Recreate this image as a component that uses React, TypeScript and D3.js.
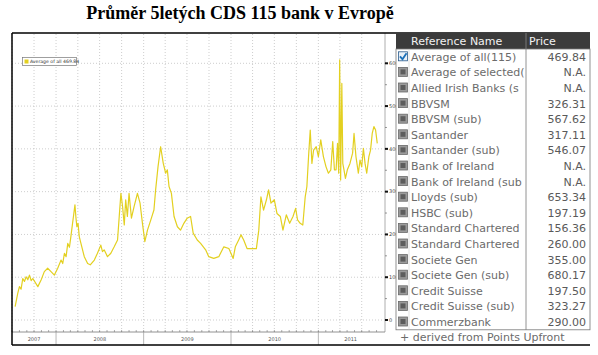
import * as d3 from 'd3'

// Průměr 5letých CDS – average of all 115 banks (bp)
const avgAll: [string, number][] = [
  ['2007-07-14', 31], ['2007-07-25', 62], ['2007-08-01', 78], ['2007-08-08', 72],
  ['2007-08-15', 97], ['2007-08-22', 90], ['2007-08-29', 101], ['2007-09-05', 94],
  ['2007-09-12', 105], ['2007-09-19', 92], ['2007-09-26', 97], ['2007-10-17', 78],
  ['2007-10-31', 94], ['2007-11-13', 113], ['2007-11-27', 121], ['2007-12-11', 113],
  ['2007-12-25', 105], ['2008-01-08', 121], ['2008-01-22', 140], ['2008-01-29', 132],
  ['2008-02-05', 156], ['2008-02-12', 148], ['2008-02-19', 179], ['2008-02-26', 170],
  ['2008-03-03', 195], ['2008-03-10', 226], ['2008-03-20', 269], ['2008-03-24', 240],
  ['2008-03-28', 218], ['2008-04-02', 226], ['2008-04-07', 195], ['2008-04-14', 179],
  ['2008-04-28', 148], ['2008-05-12', 132], ['2008-05-23', 129], ['2008-06-09', 140],
  ['2008-06-22', 156], ['2008-07-06', 175], ['2008-07-13', 160], ['2008-07-20', 164],
  ['2008-08-03', 148], ['2008-08-17', 156], ['2008-08-31', 171], ['2008-09-14', 187],
  ['2008-09-21', 242], ['2008-09-28', 296], ['2008-10-05', 265], ['2008-10-12', 222],
  ['2008-10-18', 281], ['2008-10-25', 242], ['2008-11-01', 296], ['2008-11-11', 238],
  ['2008-11-22', 265], ['2008-12-06', 296], ['2008-12-17', 273], ['2008-12-27', 226],
  ['2009-01-06', 183], ['2009-01-17', 210], ['2009-01-31', 234], ['2009-02-13', 257],
  ['2009-02-20', 304], ['2009-03-02', 358], ['2009-03-13', 405], ['2009-03-24', 366],
  ['2009-04-03', 343], ['2009-04-10', 351], ['2009-04-17', 312], ['2009-04-27', 296],
  ['2009-05-08', 242], ['2009-05-22', 218], ['2009-06-04', 210], ['2009-06-18', 226],
  ['2009-07-02', 238], ['2009-07-16', 242], ['2009-07-27', 203], ['2009-08-13', 187],
  ['2009-08-27', 179], ['2009-09-17', 164], ['2009-09-30', 148], ['2009-10-21', 144],
  ['2009-11-11', 148], ['2009-12-02', 171], ['2009-12-23', 167], ['2010-01-10', 144],
  ['2010-01-19', 171], ['2010-02-02', 187], ['2010-02-12', 199], ['2010-02-23', 187],
  ['2010-03-09', 167], ['2010-03-30', 167], ['2010-04-17', 167], ['2010-04-27', 210],
  ['2010-05-06', 288], ['2010-05-17', 257], ['2010-05-29', 281], ['2010-06-07', 304],
  ['2010-06-17', 273], ['2010-07-01', 281], ['2010-07-12', 249], ['2010-07-26', 242],
  ['2010-08-06', 210], ['2010-08-20', 246], ['2010-09-03', 226], ['2010-09-17', 242],
  ['2010-09-28', 261], ['2010-10-06', 234], ['2010-10-17', 226], ['2010-10-28', 222],
  ['2010-11-07', 288], ['2010-11-14', 312], ['2010-11-21', 382], ['2010-11-28', 444],
  ['2010-12-05', 366], ['2010-12-12', 397], ['2010-12-23', 405], ['2011-01-01', 382],
  ['2011-01-11', 421], ['2011-01-22', 382], ['2011-02-02', 358], ['2011-02-12', 343],
  ['2011-02-22', 351], ['2011-03-02', 417], ['2011-03-09', 351], ['2011-03-16', 351],
  ['2011-03-22', 413], ['2011-03-27', 343], ['2011-03-31', 608], ['2011-04-04', 327],
  ['2011-04-09', 553], ['2011-04-13', 366], ['2011-04-18', 351], ['2011-04-24', 331],
  ['2011-05-02', 351], ['2011-05-13', 366], ['2011-05-24', 390], ['2011-05-30', 436],
  ['2011-06-07', 382], ['2011-06-17', 343], ['2011-06-24', 374], ['2011-07-01', 358],
  ['2011-07-08', 401], ['2011-07-15', 366], ['2011-07-22', 343], ['2011-07-31', 382],
  ['2011-08-07', 397], ['2011-08-14', 436], ['2011-08-21', 452], ['2011-08-28', 444],
  ['2011-09-04', 413],
]

const yTicks = [0, 100, 200, 300, 400, 500, 600]
const years = [2007, 2008, 2009, 2010, 2011]

// names as the list control shows them (cut at the column edge)
const refNames = [
  'Average of all(115)', 'Average of selected(', 'Allied Irish Banks (s', 'BBVSM',
  'BBVSM (sub)', 'Santander', 'Santander (sub)', 'Bank of Ireland', 'Bank of Ireland (sub',
  'Lloyds (sub)', 'HSBC (sub)', 'Standard Chartered', 'Standard Chartered',
  'Societe Gen', 'Societe Gen (sub)', 'Credit Suisse', 'Credit Suisse (sub)', 'Commerzbank',
]
const refPrices = [
  '469.84', 'N.A.', 'N.A.', '326.31', '567.62', '317.11', '546.07', 'N.A.', 'N.A.',
  '653.34', '197.19', '156.36', '260.00', '355.00', '680.17', '197.50', '323.27', '290.00',
]

const LINE = '#e3d020'
const SMALL = 'DejaVu Sans'

export default function App() {
  const width = 598
  const height = 355

  const parse = d3.timeParse('%Y-%m-%d')
  const data = avgAll.map(([d, v]) => ({date: parse(d) as Date, value: v}))

  const x = d3.scaleTime()
    .domain([new Date(2007, 6, 1), new Date(2011, 8, 28)])
    .range([12, 383])
  const y = d3.scaleLinear().domain([0, 600]).range([320, 63.3])

  const line = d3.line<{date: Date, value: number}>()
    .x(d => x(d.date))
    .y(d => y(d.value))

  const [d0, d1] = x.domain()
  const quarters = d3.timeMonth.every(3)!.range(d0, d1)
  const months = d3.timeMonth.range(d0, d1)
  const yearStarts = years.slice(1).map(yr => new Date(yr, 0, 1))

  const axisY = 332
  const frameBottom = 345
  const plotRight = 385

  // table geometry
  const tLeft = 396
  const tRight = 590
  const colSplit = 526
  const headTop = 33
  const headBottom = 49
  const rowH = 15.6

  return (
    <svg width={width} height={height} style={{position: 'absolute', left: 0, top: 0, background: '#fff'}}>
      <text x={240} y={19} textAnchor="middle" fontFamily="Liberation Serif" fontWeight={700} fontSize={18} fill="#000">
        Průměr 5letých CDS 115 bank v Evropě
      </text>

      {/* grid */}
      <g stroke="#b8b8b8" strokeWidth={0.7} strokeDasharray="1,2">
        {yTicks.map(t => (
          <line key={t} x1={12} x2={plotRight} y1={y(t)} y2={y(t)} />
        ))}
        {quarters.map(q => (
          <line key={+q} x1={x(q)} x2={x(q)} y1={34} y2={axisY} />
        ))}
      </g>

      {/* right axis */}
      <line x1={plotRight} x2={plotRight} y1={33} y2={axisY} stroke="#999" strokeWidth={0.8} />
      <g fontFamily={SMALL} fontSize={5} fill="#444">
        {yTicks.map(t => (
          <g key={t}>
            <rect x={plotRight} y={y(t) - 1} width={3} height={2} fill="#111" />
            <text x={389} y={y(t) + 1.8}>{t}</text>
          </g>
        ))}
        {yTicks.slice(0, -1).map(t => (
          <line key={'m' + t} x1={plotRight} x2={plotRight + 2} y1={y(t + 50)} y2={y(t + 50)} stroke="#555" strokeWidth={0.6} />
        ))}
      </g>

      {/* x axis */}
      <line x1={12} x2={plotRight} y1={axisY} y2={axisY} stroke="#777" strokeWidth={0.8} />
      {months.map(m => (
        <line key={+m} x1={x(m)} x2={x(m)} y1={axisY - 2} y2={axisY} stroke="#777" strokeWidth={0.6} />
      ))}
      {yearStarts.map(ys => (
        <line key={+ys} x1={x(ys)} x2={x(ys)} y1={axisY} y2={frameBottom} stroke="#999" strokeWidth={0.7} />
      ))}
      <g fontFamily={SMALL} fontSize={5} fill="#555" textAnchor="middle">
        {years.map(yr => {
          const a = Math.max(+d0, +new Date(yr, 0, 1))
          const b = Math.min(+d1, +new Date(yr + 1, 0, 1))
          return <text key={yr} x={(x(new Date(a)) + x(new Date(b))) / 2} y={341}>{yr}</text>
        })}
      </g>

      {/* series */}
      <path d={line(data) ?? undefined} fill="none" stroke={LINE} strokeWidth={1.2} strokeLinejoin="round" />

      {/* legend */}
      <rect x={22.5} y={57.5} width={54} height={8} fill="#fff" stroke="#777" strokeWidth={0.7} />
      <rect x={24.5} y={59.5} width={4} height={4} fill={LINE} />
      <text x={30} y={63.3} fontFamily={SMALL} fontSize={4.6} fill="#333">Average of all 469.84</text>

      {/* frame */}
      <line x1={12} x2={tRight} y1={33} y2={33} stroke="#000" strokeWidth={1.5} />
      <line x1={12} x2={tRight} y1={frameBottom} y2={frameBottom} stroke="#000" strokeWidth={1.5} />
      <line x1={12} x2={12} y1={33} y2={frameBottom} stroke="#000" strokeWidth={1.5} />

      {/* reference table */}
      <defs>
        <clipPath id="nameClip">
          <rect x={409} y={headTop} width={colSplit - 409 - 1} height={300} />
        </clipPath>
      </defs>
      <rect x={tLeft} y={headTop} width={tRight - tLeft} height={headBottom - headTop} fill="#3b3b3b" />
      <line x1={colSplit} x2={colSplit} y1={headTop} y2={headBottom} stroke="#888" strokeWidth={0.8} />
      <g fontFamily={SMALL} fontSize={11} fill="#f2f2f2">
        <text x={411} y={45}>Reference Name</text>
        <text x={529} y={45}>Price</text>
      </g>
      <rect x={tLeft} y={headBottom} width={tRight - tLeft} height={rowH * refNames.length} fill="#fff" stroke="#777" strokeWidth={0.8} />
      <line x1={colSplit} x2={colSplit} y1={headBottom} y2={headBottom + rowH * refNames.length} stroke="#777" strokeWidth={0.8} />
      <line x1={409} x2={409} y1={headBottom} y2={headBottom + rowH * refNames.length} stroke="#ccc" strokeWidth={0.6} />
      {refNames.map((name, i) => {
        const cy = headBottom + rowH * i + rowH / 2
        return (
          <g key={name + i}>
            {i === 0 ? (
              <g>
                <rect x={398.5} y={cy - 5} width={9} height={9} fill="#e8f0f8" stroke="#2a5a8a" strokeWidth={0.8} />
                <path d={`M400,${cy - 0.5} L402.5,${cy + 2.5} L406.5,${cy - 3.5}`} fill="none" stroke="#1b6fb8" strokeWidth={1.8} />
              </g>
            ) : (
              <g>
                <rect x={398.5} y={cy - 5} width={9} height={9} fill="#9a9a9a" stroke="#6a6a6a" strokeWidth={0.8} />
                <rect x={400.5} y={cy - 3} width={5} height={5} fill="#5c5c5c" />
              </g>
            )}
            <text x={411} y={cy + 4} fontFamily={SMALL} fontSize={11} fill="#6b6b6b" clipPath="url(#nameClip)">{name}</text>
            <text x={586} y={cy + 4} fontFamily={SMALL} fontSize={11} fill="#5a5a5a" textAnchor="end">{refPrices[i]}</text>
          </g>
        )
      })}
      <text x={400} y={341} fontFamily={SMALL} fontSize={11} fill="#6b6b6b">+ derived from Points Upfront</text>
    </svg>
  )
}
